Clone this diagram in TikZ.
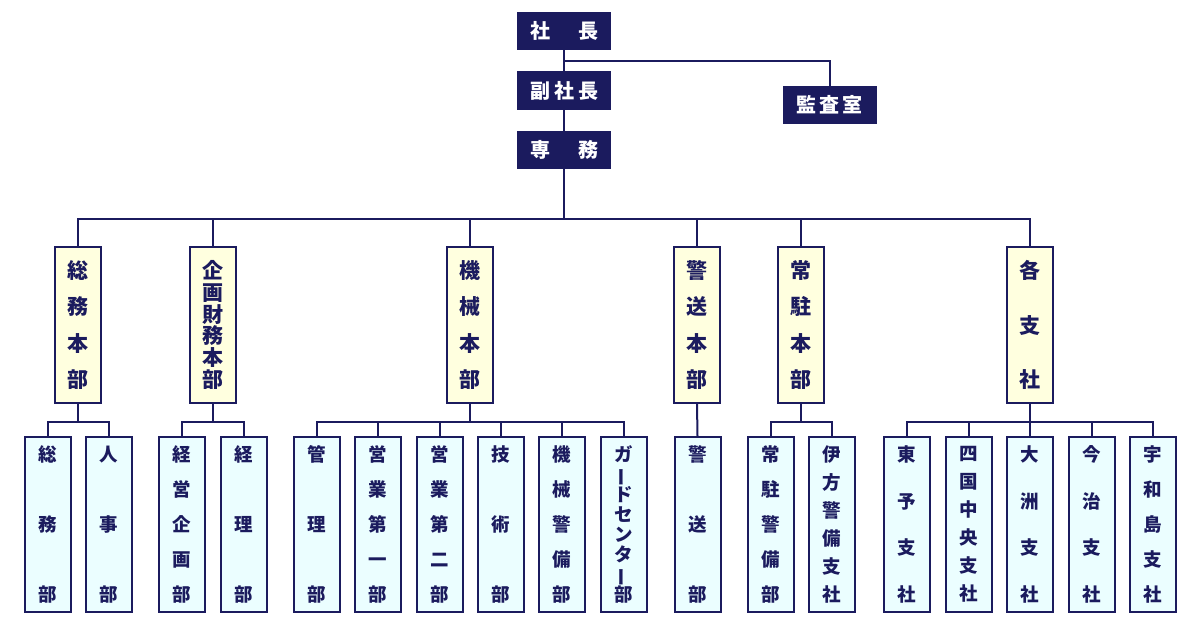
\documentclass[tikz,border=0pt]{standalone}
\usepackage{fontspec}
\usepackage{graphicx}
\newfontfamily\jp{Noto Sans CJK JP}
\definecolor{orgnavy}{HTML}{1B1B5E}
\definecolor{hqfill}{HTML}{FFFFDF}
\definecolor{deptfill}{HTML}{EBFEFF}
\newcommand{\vbar}{\rotatebox[origin=c]{90}{ー}}
\lineskiplimit=-100pt
\begin{document}
\begin{tikzpicture}[x=1pt,y=-1pt,
  topbox/.style={fill=orgnavy,text=white,minimum width=94pt,minimum height=38pt,inner sep=0pt,
    font=\jp\bfseries\fontsize{20}{22}\selectfont},
  hqbox/.style={draw=orgnavy,line width=2pt,fill=hqfill,text=orgnavy,minimum width=46pt,
    minimum height=156pt,inner sep=0pt,align=center,
    font=\jp\bfseries\fontsize{21}{#1}\selectfont},
  deptbox/.style={draw=orgnavy,line width=2pt,fill=deptfill,text=orgnavy,minimum width=46pt,
    minimum height=175pt,inner sep=0pt,align=center,
    font=\jp\bfseries\fontsize{18.5}{#1}\selectfont},
  link/.style={draw=orgnavy,line width=2pt}]
\useasboundingbox (0,0) rectangle (1200,626);
\fill[white] (0,0) rectangle (1200,626);

% top
\node[topbox] (shacho) at (564,31) {社\hspace{28pt}長};
\node[topbox] (fuku) at (564,90.5) {副\hspace{4pt}社\hspace{4pt}長};
\node[topbox] (senmu) at (564,150) {専\hspace{28pt}務};
\node[topbox] (kansa) at (829.5,105) {監\hspace{3pt}査\hspace{3pt}室};
\coordinate (kj) at (564,61);
\coordinate (bus) at (564,219);
\coordinate (lv) at (0,422);

% headquarters
\node[hqbox=36.33] (hq1) at (78,325) {総\\務\\本\\部};
\node[hqbox=21.8] (hq2) at (213,325) {企\\画\\財\\務\\本\\部};
\node[hqbox=36.33] (hq3) at (470,325) {機\\械\\本\\部};
\node[hqbox=36.33] (hq4) at (697,325) {警\\送\\本\\部};
\node[hqbox=36.33] (hq5) at (801,325) {常\\駐\\本\\部};
\node[hqbox=54.5] (hq6) at (1030,325) {各\\支\\社};

% departments
\node[deptbox=70] (d1) at (47.5,524.5) {総\\務\\部};
\node[deptbox=70] (d2) at (109,524.5) {人\\事\\部};
\node[deptbox=35] (d3) at (182,524.5) {経\\営\\企\\画\\部};
\node[deptbox=70] (d4) at (243.5,524.5) {経\\理\\部};
\node[deptbox=70] (d5) at (317,524.5) {管\\理\\部};
\node[deptbox=35] (d6) at (378,524.5) {営\\業\\第\\一\\部};
\node[deptbox=35] (d7) at (439.5,524.5) {営\\業\\第\\二\\部};
\node[deptbox=70] (d8) at (501,524.5) {技\\術\\部};
\node[deptbox=35] (d9) at (562,524.5) {機\\械\\警\\備\\部};
\node[deptbox=20] (d10) at (624,524.5) {ガ\\\vbar\\ド\\セ\\ン\\タ\\\vbar\\部};
\node[deptbox=70] (d11) at (697.5,524.5) {警\\送\\部};
\node[deptbox=35] (d12) at (771,524.5) {常\\駐\\警\\備\\部};
\node[deptbox=28] (d13) at (832,524.5) {伊\\方\\警\\備\\支\\社};
\node[deptbox=46.67] (d14) at (907,524.5) {東\\予\\支\\社};
\node[deptbox=28] (d15) at (969,524.5) {四\\国\\中\\央\\支\\社};
\node[deptbox=46.67] (d16) at (1030,524.5) {大\\洲\\支\\社};
\node[deptbox=46.67] (d17) at (1092,524.5) {今\\治\\支\\社};
\node[deptbox=35] (d18) at (1153,524.5) {宇\\和\\島\\支\\社};

% connectors
\draw[link] (shacho) -- (fuku);
\draw[link] (fuku) -- (senmu);
\draw[link] (kj) -| (kansa.north);
\draw[link] (senmu.south) -- (bus);
\foreach \h in {hq1,hq2,hq3,hq4,hq5,hq6} \draw[link] (\h.north) |- (bus);

\foreach \h/\ds in {hq1/{d1,d2},hq2/{d3,d4},hq3/{d5,d6,d7,d8,d9,d10},hq5/{d12,d13},hq6/{d14,d15,d16,d17,d18}}{
  \draw[link] (\h.south) -- (\h.south |- lv);
  \foreach \d in \ds \draw[link] (\d.north) |- (\h.south |- lv);
}
\draw[link] (hq4.south) -- (d11.north);
\end{tikzpicture}
\end{document}
